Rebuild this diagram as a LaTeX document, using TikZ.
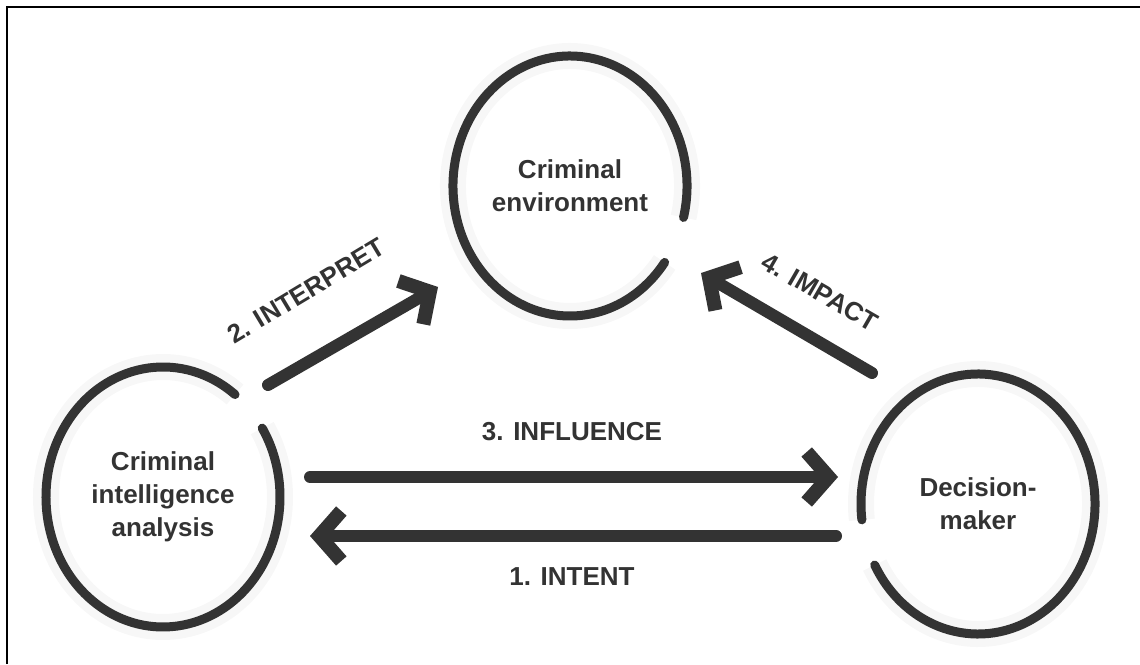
\documentclass[tikz,border=0pt]{standalone}
\usepackage{fontspec}
\setsansfont{Liberation Sans}
\usetikzlibrary{arrows.meta}
\definecolor{ink}{HTML}{333333}

\tikzset{
	ring/.style={draw=ink, line width=4.5pt, line cap=round},
	halo/.style={draw=black!3, line width=13pt},
	link/.style={draw=ink, line width=6pt, line cap=round,
		-{Straight Barb[sharp, length=11pt, width=25pt, line width=7pt]}},
	word/.style={font=\sffamily\bfseries\fontsize{13}{16.5}\selectfont, text=ink, align=center, inner sep=0pt},
}

\begin{document}
\begin{tikzpicture}[x=0.5pt, y=0.5pt]
	\useasboundingbox (0,0) rectangle (1140,664);
	\draw[black, line width=1.2pt] (7,0) -- (7,657) -- (1140,657);

	\node[word] (env) at (570, 478) {Criminal\\environment};
	\node[word] (cia) at (163, 167) {Criminal\\intelligence\\analysis};
	\node[word] (dm)  at (978, 160) {Decision-\\maker};

	% faint glow, then the open rings
	\draw[halo] (env.center) ++(-14:117 and 130) arc[start angle=-14, end angle=324, x radius=117, y radius=130];
	\draw[halo] (cia.center) ++(52:117 and 130) arc[start angle=52, end angle=392, x radius=117, y radius=130];
	\draw[halo] (dm.center) ++(208:117 and 130) arc[start angle=208, end angle=547, x radius=117, y radius=130];
	\draw[ring] (env.center) ++(-14:117 and 130) arc[start angle=-14, end angle=324, x radius=117, y radius=130];
	\draw[ring] (cia.center) ++(52:117 and 130) arc[start angle=52, end angle=392, x radius=117, y radius=130];
	\draw[ring] (dm.center) ++(208:117 and 130) arc[start angle=208, end angle=547, x radius=117, y radius=130];

	\coordinate (infa) at (310, 187);
	\coordinate (infb) at (838, 187);
	\coordinate (inta) at (836, 128);
	\coordinate (intb) at (310, 128);
	\coordinate (inpa) at (268, 279);
	\coordinate (inpb) at (438, 377);
	\coordinate (impa) at (872, 291);
	\coordinate (impb) at (701, 391);

	\draw[link] (infa) -- (infb);
	\draw[link] (inta) -- (intb);
	\draw[link] (inpa) -- (inpb);
	\draw[link] (impa) -- (impb);

	\node[word] (tinf) at (572, 232) {3. INFLUENCE};
	\node[word] (tint) at (572, 87)  {1. INTENT};
	\node[word, rotate=31] (tinp) at (306, 373) {2. INTERPRET};
	\node[word, rotate=-30] (timp) at (820, 372) {4. IMPACT};
\end{tikzpicture}
\end{document}
